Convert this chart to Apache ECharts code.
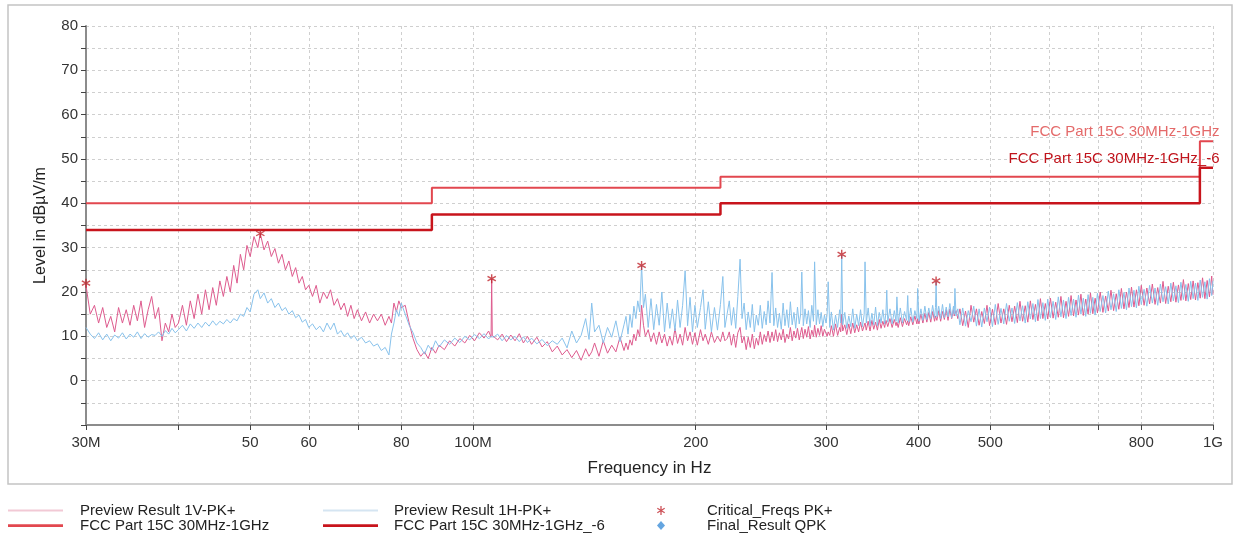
<!DOCTYPE html>
<html><head><meta charset="utf-8">
<script src="https://cdn.jsdelivr.net/npm/echarts@6/dist/echarts.min.js"></script>
<style>html,body{margin:0;padding:0;background:#fff}#c{width:1235px;height:544px}</style>
</head><body><div id="c"></div>
<script>
// ---- data (frequency in MHz, level in dBµV/m) ----
const freqMHz = [
 30,30.4,30.8,31.2,31.6,32,32.4,32.8,33.2,33.6,34,34.4,34.8,35.2,35.6,36,36.4,36.8,37.2,37.6,38,38.4,38.8,39.2,39.6,
 40,40.5,41,41.5,42,42.5,43,43.5,44,44.5,45,45.5,46,46.5,47,47.5,48,48.5,49,49.5,50,
 50.6,51.2,51.6,52.2,52.8,53.4,54,54.6,55.2,55.8,56.4,57,57.6,58.2,58.8,59.4,60,60.7,61.4,62.1,
 62.8,63.5,64.2,64.9,65.6,66.3,67,67.7,68.4,69.1,69.8,70.7,71.6,72.5,73.4,74.3,75.2,76.1,77,77.6,78.2,78.8,79.4,80,
 81,82,83,84,85,86,87,88,89,90,91.5,93,94.5,96,97.5,99,100.5,102,103.5,105,
 105.8,106,106.2,106.6,108,109.5,111,112.5,114,115.5,117,118.5,120,122,124,126,128,130,132,134,
 136,138,140,142,143.5,144.7,146,148,150,152,154,156,158,160,
 161,162,163,164,165,166,167,168,169,170,171,172.5,174,175.5,177,178.5,180,181.5,183,184.5,
 186,187.5,189,190.5,192,193.5,195,196.5,198,199.5,201,203,204.6,206,208,210,212,214,216,217.6,219,
 220.5,222,223.5,225,226.5,228,229.6,231,232.5,234,235.5,237,238.5,240,241.5,243,244.5,246,247.5,249,
 250.5,252,253.6,255,256.5,258,259.5,261,262.5,264,265.5,267,268.5,270,271.5,273,274.5,276,277.2,278.2,
 279.5,281,282.5,284,285.5,287,288.5,289.5,291,292.5,294,295.5,297,298.5,
 300,301,302,303.5,305,307,309,311,313,314,315,316,318,320,322,324,326,328,330,332,
 334,336,337.8,338.7,340,342,344,346,348,350,352,354,356,358,360,361.5,362.4,363.5,366,368.5,
 371,373,374,375.5,378,380.5,383,385.5,386.8,388,390.5,393,395.5,398,399,400.5,403,405.5,408,410.5,
 413,415.5,418,420.5,421.7,422.5,423.5,426,428.5,431,433.5,436,438.5,441,443.5,446,447,448,449.5,452,
 455,459,463,467,471,475,479,483,487,491,495,499,
 503.5,508,512.5,517,521.5,526,530.5,535,539.5,544,548.5,553,557.5,562,566.5,571,575.5,580,584.5,589,593.5,598,
 603,608,613,618,623,628,633,638,643,648,653,658,663,668,673,678,683,688,693,698,
 704,710,716,722,728,734,740,746,752,758,764,770,776,782,788,794,800,
 807,814,821,828,835,842,849,856,863,870,877,884,891,898,905,912,919,926,933,940,947,954,961,968,975,982,989,996,1000
];
const levelV = [
 21.5,15,17,13,16.5,12,14.5,11,16.5,13,16,12.5,17,13.5,18,12,16,19,14,16.5,9,13,11,15,12,
 13,17,12.5,18,14,19.5,15,20.5,16,21,17,22.5,19,23.5,20,26,22,28.5,25,30.5,28,
 32.5,30,33.2,29.5,31.5,28,29.8,26.5,28.5,25,27,23.5,25.5,22,23.5,20.5,21.5,19,21.5,17.5,
 20,18.5,20.5,17,18.5,16,17.5,14.5,17,14,16,13.5,15.5,13,15,13.5,15,12.5,14.5,13,17.5,15.5,18,16.5,
 17,13,9.5,7,5.5,6.5,5,7.5,6.2,8,7,9,7.8,9.5,8.5,10.2,9,10.8,9.6,11.2,
 9.8,23,10.2,10,9.2,10.5,8.8,10.3,9,10.6,8.5,10,8.2,9.8,7.6,8.8,6.5,7.8,5.8,7,
 5.2,6.8,4.6,7.2,5.5,6.5,8.5,5.5,9,6.2,8,6.5,9.8,6.8,
 8.5,7,9.2,8,10.5,9,11.5,10,17,12.5,10,11.5,8.8,10.8,8.2,11,8.5,10.5,7.8,10,
 8,11.8,8.4,10.5,8,12,9,11,8.2,10.8,8,11.5,9,10.5,8.2,11,8.6,10,8.8,11,9,
 9.5,11,8,10.5,7.5,10.8,12,8.5,10,7,9.8,7.5,10.5,7.2,9.6,8,11,8.2,10.4,8.8,
 11.2,8.6,11,9,11.5,8.8,10.8,9.2,11.6,8.6,10.5,9.4,12,9,11.2,9.6,11.8,9.2,10.8,12,
 9.5,11.6,9.8,12.2,9.4,11.4,10,12.5,9.8,11.8,10.2,12.4,10,11.6,
 11.5,10,11,10.2,12.4,10,12.8,10.2,12,11,15,11.2,12.6,10.4,12.8,10.6,13,10.8,12.6,11,
 13.2,11.2,12.4,13,11.4,13.4,11.2,13.6,11.6,13.2,11.4,13.8,11.8,13.4,12,13.6,13,12.2,14,12,
 13.8,12.4,13.2,12,14.2,12.2,14,12.6,13.5,12.4,14.4,12.6,14.6,12.8,14,12.8,15,13,15.2,13.2,
 15.4,13.2,15.6,13.4,14.6,15,13.6,15.8,13.4,15.6,13.8,16,13.6,16.2,14,16,14.6,14.2,15.8,14,
 16.2,12.4,15.7,12,17,13.2,16.2,12.5,15.6,12.9,17,12.4,
 16.1,12.6,17.4,13,16.2,12.7,17,13.3,16.8,13.1,17.9,13.4,16.9,13.2,18,13.8,17.2,13.5,18.5,14,17.4,13.9,
 18.6,14.1,17.7,14.3,19,14.2,17.9,14.5,19.2,14.6,18.2,14.8,19.5,14.7,18.4,15,19.8,15.1,18.6,15.3,
 20,15.4,19.1,15.7,20.4,15.8,19.6,16.1,20.8,16.2,20,16.5,21.1,16.6,20.5,16.9,21.5,
 17,20.9,17.3,21.8,17.2,21,17.5,22.4,17.4,21.3,17.8,22.2,17.7,21.6,18.1,22.8,18,21.9,18.3,22.5,18.2,22.1,18.6,23.2,18.5,22.6,18.9,23.6,19.4
];
const levelH = [
 12,10.5,9.5,10.8,9.2,10.5,9,10.3,9.6,10.8,9.4,10.5,9.8,11,9.5,10.6,9.8,10.4,10.2,11,10,11.3,10.5,11.8,10.8,
 11.5,12.5,11.2,12.8,11.8,13,12,13.2,12.3,13.5,12.5,13.4,12.8,13.8,13,14,13.5,15,14.5,16.5,15.5,
 19.5,20.5,18.5,19.8,17.5,18.5,16.5,17.5,15.8,16.5,15,15.8,14.2,14.8,13.2,13.8,12,12.8,11.5,12.3,
 11,13,11.5,13,10.5,11.3,10,10.8,9.5,10.2,9,9.8,8.5,9,7.8,8.3,6.8,7.5,5.8,10.5,13,16,14.5,17.5,
 15,12.5,10.8,8.5,7.5,6,8,6.8,9,7.6,9.2,8.2,9.6,8.6,10,9.2,10.4,9.5,10.6,9.4,
 10,10.3,9.6,9.8,10.5,9,10.2,9.2,10,8.8,9.9,8.6,9.6,8.3,9.3,7.9,9,8.2,9.6,7.4,
 11.2,8.5,10.2,14,9.3,17.5,11,12.5,8.5,12,9.8,13.5,8.8,12.6,
 14.5,10.5,15,12,16.8,14,18,15.5,26,16.5,19.5,12,18.5,11.5,17.2,12.5,20,11,17.5,11.8,
 16.2,11.2,18.2,12,17,24.8,12.4,18.8,11,17,12,16.5,20.5,11.6,17.8,11,16.5,11.4,17.2,23.5,12,
 15,18,12.5,16.5,11.8,19,27.4,14,17.5,11.5,15.5,12,17.2,11,14.8,12.5,17,11.8,15.6,12.6,
 18,13,24.4,12.4,16.4,12,15.2,11.6,17.5,12.4,16,12,17.8,12.6,15.4,11.8,16.6,12.8,15,24.5,
 12.4,16.2,12.8,15.8,12,17,13.4,26.8,12.6,16,12.8,15.4,12.2,14.8,
 13,15,22.3,12,15.5,11.4,14.8,12,16,13,28.3,12.6,15.4,11.8,14.6,12.2,16.2,11.8,15,12.4,
 16,12.2,15,26.8,13,16.4,12.4,15.2,12.6,16.6,12.4,15.4,13,16,12.8,15.4,20.4,13.2,16.2,12.8,
 15.8,13.4,18.9,13,16.4,13,15.6,13.6,19.2,13.2,16.4,13.2,15.8,14,20.8,13.4,16.2,13.6,16.8,13.8,
 16.4,14,17,14.2,16.5,22.3,14.4,16.8,14,17.2,14.2,16.6,14.4,17.4,14.2,16.8,15,20.8,14.6,16.2,
 12.6,16.4,12.3,15.8,13.3,16.8,12.3,16.2,12.1,16.4,13.3,16.6,
 12.2,17.2,12.7,16.3,12.8,17.4,13.4,16.4,12.9,17.6,13.5,16.9,13,17.8,13.9,17.4,13.3,18.3,14,17.6,13.6,18.4,
 14.2,17.9,13.8,18.9,14.4,18.2,14,18.8,14.7,18.4,14.3,19.3,15,18.6,14.5,19.4,15.2,18.8,14.8,19.7,
 15.6,19.2,15.3,20.2,16,19.6,15.6,20.5,16.3,19.9,16,20.9,16.7,20.4,16.4,21.3,17.2,
 20.6,16.8,21.5,17.5,20.9,17,21.8,17.8,21.2,17.3,22,18,21.4,17.6,22.2,18.3,21.7,17.9,22.4,18.5,22,18.1,22.7,18.8,22.3,18.4,23,19.2,22.5
];
const limitFreqMHz = [30, 88, 216, 960, 1000];
const limitLevel = [40, 43.5, 46, 54, 54];
const limitLevel6 = [34, 37.5, 40, 48, 48];
const critFreqMHz = [30, 51.6, 106, 169, 315, 422.5];
const critLevel = [22, 33.2, 23, 26, 28.5, 22.5];
const finalFreqMHz = [];
const finalLevel = [];
const tickFreqMHz = [30, 40, 50, 60, 70, 80, 100, 200, 300, 400, 500, 600, 700, 800, 1000];
const labelFreqMHz = [30, 50, 60, 80, 100, 200, 300, 400, 500, 800, 1000];
const tickLabels = ['30M', '50', '60', '80', '100M', '200', '300', '400', '500', '800', '1G'];

const NAME_V = 'Preview Result 1V-PK+';
const NAME_H = 'Preview Result 1H-PK+';
const NAME_L = 'FCC Part 15C 30MHz-1GHz';
const NAME_L6 = 'FCC Part 15C 30MHz-1GHz_-6';
const NAME_C = 'Critical_Freqs PK+';
const NAME_Q = 'Final_Result QPK';

if (freqMHz.length !== levelV.length || freqMHz.length !== levelH.length) {
  console.error('length mismatch', freqMHz.length, levelV.length, levelH.length);
}

// ---- chart ----
const FONT = 'Arial, "Liberation Sans", sans-serif';
const lg = v => Math.log10(v);
const labelMap = {};
labelFreqMHz.forEach((f, i) => { labelMap[f] = tickLabels[i]; });
const pairs = (fs, ls) => fs.map((f, i) => [lg(f), ls[i]]);
const STAR = 'path://M8.5 0L11.5 0L11.5 20L8.5 20ZM0.59 6.3L2.09 3.7L19.41 13.7L17.91 16.3ZM2.09 16.3L0.59 13.7L17.91 3.7L19.41 6.3Z';
const LINE_THIN = 'path://M0 0H100V3.6H0Z';
const LINE_THICK = 'path://M0 0H100V5H0Z';

function limitMark(level, color) {
  return {
    silent: true, symbol: 'circle', symbolSize: 1,
    itemStyle: { color: 'rgba(0,0,0,0)' },
    label: { show: true, position: [7, -9], align: 'right', verticalAlign: 'middle',
      color: color, fontSize: 15, fontFamily: FONT, formatter: p => p.seriesName },
    data: [{ coord: [lg(1000), level] }]
  };
}

const chart = echarts.init(document.getElementById('c'), null, { renderer: 'canvas' });
const legendText = pad => ({ fontSize: 15, color: '#222', fontFamily: FONT, lineHeight: 14, padding: [0, 0, 0, pad] });
chart.setOption({
  animation: false,
  backgroundColor: '#fff',
  graphic: [{ type: 'rect', silent: true, z: -10,
    shape: { x: 8, y: 5, width: 1224, height: 479 },
    style: { fill: 'none', stroke: '#c4c4c4', lineWidth: 1.5 } }],
  grid: { left: 86, right: 22, top: 26, bottom: 119 },
  xAxis: {
    type: 'value', min: lg(30), max: 3,
    name: 'Frequency in Hz', nameLocation: 'middle', nameGap: 35,
    nameTextStyle: { fontSize: 17, color: '#222', fontFamily: FONT },
    axisLine: { show: true, onZero: false, lineStyle: { color: '#8c8c8c', width: 2 } },
    axisTick: { show: true, customValues: tickFreqMHz.map(lg), length: 5, lineStyle: { color: '#444' } },
    axisLabel: { customValues: labelFreqMHz.map(lg), margin: 10, fontSize: 15, color: '#333', fontFamily: FONT,
      formatter: v => labelMap[Math.round(Math.pow(10, v))] || '' },
    splitLine: { show: true, lineStyle: { color: '#cfcfcf', type: [3, 3], width: 1 } }
  },
  yAxis: {
    type: 'value', min: -10, max: 80, interval: 5,
    name: 'Level in dBµV/m', nameLocation: 'middle', nameGap: 37,
    nameTextStyle: { fontSize: 16, color: '#222', fontFamily: FONT },
    axisLine: { show: true, lineStyle: { color: '#8c8c8c', width: 2 } },
    axisTick: { show: true, length: 5, lineStyle: { color: '#444' } },
    axisLabel: { fontSize: 15, color: '#333', fontFamily: FONT, margin: 8,
      formatter: v => (v % 10 === 0 && v > -10) ? String(v) : '' },
    splitLine: { show: true, lineStyle: { color: '#cfcfcf', type: [3, 3], width: 1 } }
  },
  legend: [
    { left: 8, top: 503, orient: 'vertical', padding: 0, itemWidth: 55, itemHeight: 10, itemGap: 0,
      symbolKeepAspect: true, selectedMode: false, textStyle: legendText(12),
      data: [{ name: NAME_V, icon: LINE_THIN, itemStyle: { color: '#f2c9d5' } },
             { name: NAME_L, icon: LINE_THICK, itemStyle: { color: '#e2474f' } }] },
    { left: 323, top: 503, orient: 'vertical', padding: 0, itemWidth: 55, itemHeight: 10, itemGap: 0,
      symbolKeepAspect: true, selectedMode: false, textStyle: legendText(11),
      data: [{ name: NAME_H, icon: LINE_THIN, itemStyle: { color: '#d5e5f2' } },
             { name: NAME_L6, icon: LINE_THICK, itemStyle: { color: '#c8141c' } }] },
    { left: 657, top: 503, orient: 'vertical', padding: 0, itemWidth: 8, itemHeight: 9, itemGap: 0,
      symbolKeepAspect: false, selectedMode: false, textStyle: legendText(37),
      data: [{ name: NAME_C, icon: STAR, itemStyle: { color: '#c0262d' } },
             { name: NAME_Q, icon: 'diamond', itemStyle: { color: '#3d8fd8' } }] }
  ],
  series: [
    { name: NAME_V, type: 'line', symbol: 'none', silent: true, z: 2,
      color: '#de5b8e', lineStyle: { color: '#de5b8e', width: 1 },
      data: pairs(freqMHz, levelV) },
    { name: NAME_H, type: 'line', symbol: 'none', silent: true, z: 3,
      color: '#88c2ec', lineStyle: { color: '#88c2ec', width: 1 },
      data: pairs(freqMHz, levelH) },
    { name: NAME_L, type: 'line', symbol: 'none', step: 'end', silent: true, z: 4,
      color: '#e2474f', lineStyle: { color: '#e2474f', width: 2 },
      data: pairs(limitFreqMHz, limitLevel),
      markPoint: limitMark(limitLevel[limitLevel.length - 1], '#e46a6a') },
    { name: NAME_L6, type: 'line', symbol: 'none', step: 'end', silent: true, z: 4,
      color: '#c8141c', lineStyle: { color: '#c8141c', width: 2.5 },
      data: pairs(limitFreqMHz, limitLevel6),
      markPoint: limitMark(limitLevel6[limitLevel6.length - 1], '#c0141c') },
    { name: NAME_C, type: 'scatter', symbol: STAR, symbolSize: 9, silent: true, z: 10,
      color: '#c0262d', itemStyle: { color: '#c0262d' },
      data: pairs(critFreqMHz, critLevel) },
    { name: NAME_Q, type: 'scatter', symbol: 'diamond', symbolSize: 9, silent: true, z: 10,
      color: '#3d8fd8', itemStyle: { color: '#3d8fd8' },
      data: pairs(finalFreqMHz, finalLevel) }
  ]
});
</script></body></html>
